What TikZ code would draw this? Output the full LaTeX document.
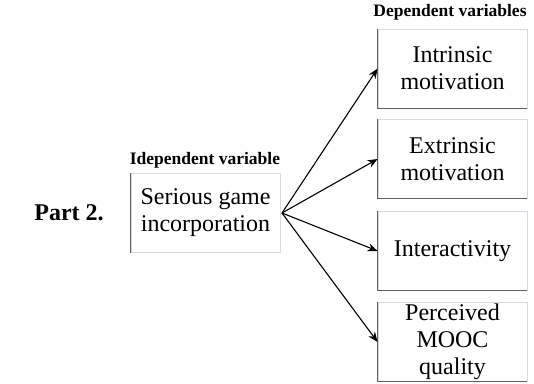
\documentclass[tikz,border=0pt]{standalone}
\usepackage{fontspec}
\setmainfont{Liberation Serif}
\usetikzlibrary{arrows.meta}
\definecolor{edgelight}{HTML}{D3DCE6}
\definecolor{edgedark}{HTML}{606060}
\tikzset{
  vbox/.style={minimum width=149pt, minimum height=79pt, inner sep=0pt, align=center,
    font=\fontsize{24}{27}\selectfont, draw=edgelight, line width=0.8pt, fill=white},
  hdr/.style={font=\bfseries\fontsize{17.5}{20}\selectfont, inner sep=0pt},
  conn/.style={-{Stealth[length=10pt,width=8pt]}, line width=1.1pt, black}
}
\begin{document}
\begin{tikzpicture}[x=1pt,y=-1pt]
\useasboundingbox (0,0) rectangle (534,383);
% right boxes
\node[vbox] (b1) at (452.5,68.5) {Intrinsic\\motivation};
\node[vbox] (b2) at (452.5,159) {Extrinsic\\motivation};
\node[vbox] (b3) at (452.5,251) {Interactivity};
\node[vbox] (b4) at (452.5,342) {Perceived\\MOOC\\quality};
\foreach \b in {b1,b2,b3,b4}{
  \draw[edgedark, line width=0.9pt] (\b.north west) -- (\b.south west) -- (\b.south east);
}
% left box
\node[vbox] (L) at (205.5,213) {Serious game\\incorporation};
\draw[edgedark, line width=0.9pt] (L.north west) -- (L.south west);
% headers
\node[hdr] (h1) at (450,12) {Dependent variables};
\node[hdr] (h2) at (205,160) {Idependent variable};
\node[font=\bfseries\fontsize{24}{27}\selectfont, inner sep=0pt] (p2) at (69,213) {Part 2.};
% connectors
\coordinate (src) at (282,213);
\draw[conn] (src) -- (b1.west);
\draw[conn] (src) -- (b2.west);
\draw[conn] (src) -- (b3.west);
\draw[conn] (src) -- (b4.west);
\end{tikzpicture}
\end{document}
